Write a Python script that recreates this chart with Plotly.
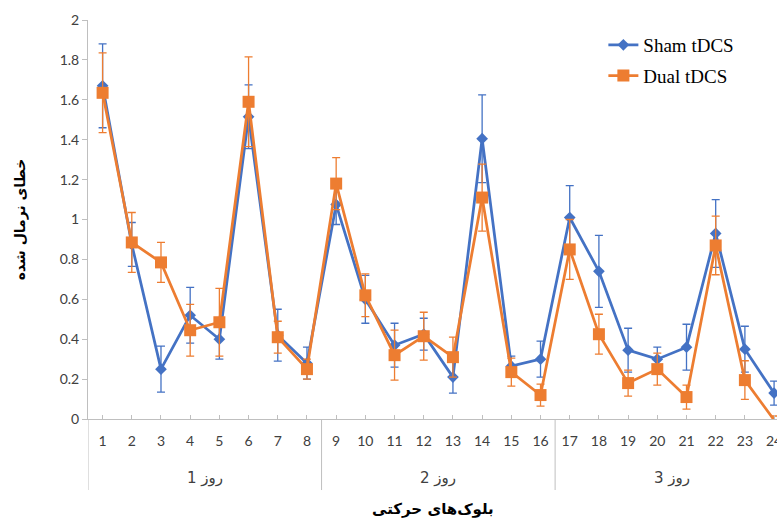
import plotly.graph_objects as go

blocks = list(range(1, 25))
tick_labels = [str(b) for b in blocks]
days = ["روز 1", "روز 2", "روز 3"]
day_centers = [4.5, 12.5, 20.5]
day_bounds = [0.5, 8.5, 16.5]

sham = [1.67, 0.875, 0.25, 0.52, 0.40, 1.515, 0.42, 0.28, 1.075, 0.60, 0.37, 0.425,
        0.21, 1.405, 0.265, 0.30, 1.01, 0.74, 0.345, 0.30, 0.36, 0.93, 0.35, 0.13]
sham_err = [0.21, 0.11, 0.115, 0.14, 0.10, 0.16, 0.13, 0.08, 0.10, 0.12, 0.11, 0.08,
            0.08, 0.22, 0.05, 0.09, 0.16, 0.18, 0.11, 0.06, 0.115, 0.17, 0.115, 0.06]
dual = [1.635, 0.885, 0.785, 0.445, 0.485, 1.59, 0.41, 0.25, 1.18, 0.62, 0.32, 0.415,
        0.31, 1.11, 0.235, 0.12, 0.85, 0.425, 0.18, 0.25, 0.11, 0.87, 0.195, -0.005]
dual_err = [0.20, 0.15, 0.10, 0.13, 0.17, 0.225, 0.08, 0.05, 0.13, 0.107, 0.125, 0.12,
            0.10, 0.168, 0.07, 0.055, 0.15, 0.10, 0.065, 0.08, 0.06, 0.147, 0.097, 0.02]

BLUE = "#4472C4"
ORANGE = "#ED7D31"
AXIS = "#BFBFBF"

fig = go.Figure()
fig.add_trace(go.Scatter(
    x=blocks, y=sham, name="Sham tDCS", mode="lines+markers", legendgroup="a",
    line=dict(color=BLUE, width=2.75),
    marker=dict(symbol="diamond", size=9, color=BLUE),
    error_y=dict(type="data", array=sham_err, color=BLUE, thickness=1.3, width=4),
    cliponaxis=False,
))
fig.add_trace(go.Scatter(
    x=blocks, y=dual, name="Dual tDCS", mode="lines+markers", legendgroup="b",
    line=dict(color=ORANGE, width=2.75),
    marker=dict(symbol="square", size=12, color=ORANGE),
    error_y=dict(type="data", array=dual_err, color=ORANGE, thickness=1.3, width=4),
    cliponaxis=False,
))

shapes = []
for b in day_bounds:
    shapes.append(dict(type="line", xref="x", yref="paper", x0=b, x1=b, y0=0, y1=-0.178,
                       line=dict(color=AXIS, width=1)))
annotations = []
for d, c in zip(days, day_centers):
    annotations.append(dict(x=c, y=-0.148, xref="x", yref="paper", text=d, showarrow=False,
                            font=dict(family="DejaVu Sans, Lato", size=15, color="#404040"),
                            yanchor="middle"))
annotations.append(dict(x=0.5, y=-0.225, xref="paper", yref="paper",
                        text="<b>بلوک\u200cهای حرکتی</b>", showarrow=False,
                        font=dict(family="DejaVu Sans", size=15, color="#000000"),
                        yanchor="middle"))

fig.update_layout(
    width=777, height=518,
    margin=dict(l=88, r=0, t=20, b=99),
    paper_bgcolor="white", plot_bgcolor="white",
    showlegend=True,
    legend=dict(x=0.748, y=0.985, xanchor="left", yanchor="top",
                font=dict(family="Liberation Serif", size=19, color="#000000"),
                bgcolor="rgba(0,0,0,0)", tracegroupgap=3, traceorder="grouped"),
    xaxis=dict(range=[0.5, 24.1], tickmode="array", tickvals=blocks, ticktext=tick_labels,
               automargin=False,
               showgrid=False, zeroline=False, showline=True, linecolor=AXIS, linewidth=1,
               ticks="inside", ticklen=4, tickcolor=AXIS, ticklabelstandoff=9,
               ticklabeloverflow="allow",
               tickfont=dict(family="Lato", size=14, color="#404040")),
    yaxis=dict(range=[0, 2], tickmode="array", tickvals=[0, 0.2, 0.4, 0.6, 0.8, 1, 1.2, 1.4, 1.6, 1.8, 2],
               ticktext=["0", "0.2", "0.4", "0.6", "0.8", "1", "1.2", "1.4", "1.6", "1.8", "2"],
               automargin=False,
               showgrid=False, zeroline=False, showline=True, linecolor=AXIS, linewidth=1,
               ticks="outside", ticklen=5, tickcolor=AXIS,
               tickfont=dict(family="Lato", size=14, color="#404040"),
               title=dict(text="<b>خطای نرمال شده</b>", standoff=30,
                          font=dict(family="DejaVu Sans", size=14, color="#000000"))),
    shapes=shapes,
    annotations=annotations,
)

fig.write_html("out.html")
